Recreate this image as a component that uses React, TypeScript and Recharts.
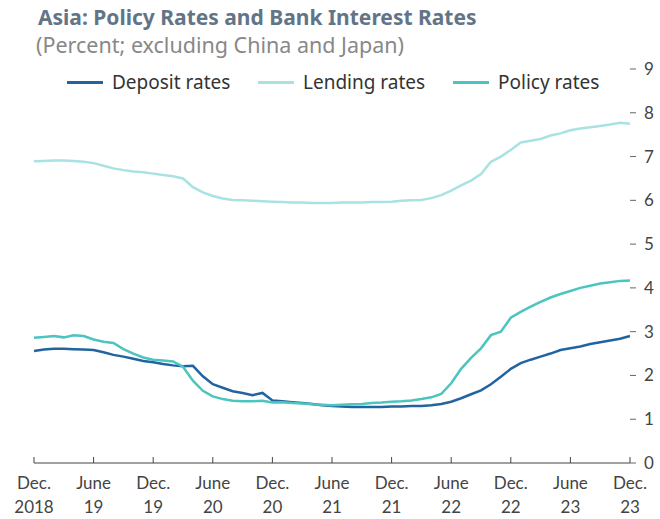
import { Legend, Line, LineChart, XAxis, YAxis } from "recharts";

// monthly, Dec. 2018 - Dec. 2023 (percent)
const depositRates = [
  2.56, 2.59, 2.61, 2.61, 2.6, 2.59, 2.58, 2.53, 2.47, 2.43,
  2.38, 2.33, 2.3, 2.26, 2.23, 2.21, 2.22, 1.98, 1.8, 1.72,
  1.64, 1.6, 1.55, 1.6, 1.43, 1.41, 1.39, 1.37, 1.35, 1.32,
  1.3, 1.29, 1.28, 1.28, 1.28, 1.28, 1.29, 1.29, 1.3, 1.3,
  1.32, 1.35, 1.4, 1.48, 1.57, 1.66, 1.8, 1.97, 2.15, 2.28,
  2.36, 2.43, 2.5, 2.58, 2.62, 2.66, 2.72, 2.76, 2.8, 2.84,
  2.9,
];
const lendingRates = [
  6.89, 6.9, 6.91, 6.91, 6.9, 6.88, 6.85, 6.79, 6.73, 6.69,
  6.66, 6.64, 6.61, 6.58, 6.55, 6.5, 6.3, 6.18, 6.1, 6.04,
  6.01, 6.0, 5.99, 5.98, 5.97, 5.96, 5.95, 5.95, 5.94, 5.94,
  5.94, 5.95, 5.95, 5.95, 5.96, 5.96, 5.97, 5.99, 6.0, 6.01,
  6.05, 6.12, 6.22, 6.34, 6.45, 6.6, 6.88, 7.0, 7.15, 7.32,
  7.36, 7.4, 7.48, 7.53, 7.6, 7.64, 7.67, 7.7, 7.73, 7.77,
  7.75,
];
const policyRates = [
  2.86, 2.88, 2.9, 2.87, 2.92, 2.9, 2.82, 2.77, 2.74, 2.6,
  2.5, 2.41, 2.36, 2.34, 2.32, 2.2, 1.88, 1.65, 1.52, 1.46,
  1.42, 1.41, 1.41, 1.42, 1.38, 1.39, 1.37, 1.36, 1.34, 1.33,
  1.32, 1.33, 1.34, 1.35, 1.37, 1.38, 1.4, 1.41, 1.43, 1.46,
  1.5, 1.58, 1.82, 2.15, 2.4, 2.62, 2.92, 3.0, 3.32, 3.45,
  3.57, 3.68, 3.78, 3.86, 3.93, 4.0, 4.05, 4.1, 4.13, 4.16,
  4.17,
];

const yTicks = [0, 1, 2, 3, 4, 5, 6, 7, 8, 9];
const tickMonths = [
  "2018-12", "2019-06", "2019-12", "2020-06", "2020-12", "2021-06",
  "2021-12", "2022-06", "2022-12", "2023-06", "2023-12",
];
const tickTop = ["Dec.", "June", "Dec.", "June", "Dec.", "June", "Dec.", "June", "Dec.", "June", "Dec."];
const tickBottom = ["2018", "19", "19", "20", "20", "21", "21", "22", "22", "23", "23"];

const months: string[] = [];
for (let i = 0; i < depositRates.length; i++) {
  const m = (11 + i) % 12;
  const y = 2018 + Math.floor((11 + i) / 12);
  months.push(`${y}-${String(m + 1).padStart(2, "0")}`);
}

const data = months.map((m, i) => ({
  month: m,
  deposit: depositRates[i],
  lending: lendingRates[i],
  policy: policyRates[i],
}));

const series = [
  { key: "deposit", name: "Deposit rates", color: "#2164a0", left: 67 },
  { key: "lending", name: "Lending rates", color: "#a9e2e2", left: 258 },
  { key: "policy", name: "Policy rates", color: "#4cc4c0", left: 453 },
];

const FONT = "Lato, 'Noto Sans', sans-serif";
const WIDE = "'Noto Sans', 'Open Sans', sans-serif";

function XTick(props: any) {
  const { x, y, payload } = props;
  const k = tickMonths.indexOf(payload.value);
  if (k < 0) return null;
  return (
    <text x={x} y={y} textAnchor="middle" fill="#444" fontSize={17} fontFamily={FONT}>
      <tspan x={x} dy={26}>{tickTop[k]}</tspan>
      <tspan x={x} dy={24}>{tickBottom[k]}</tspan>
    </text>
  );
}

function LegendRow() {
  return (
    <div style={{ position: "relative", height: 24, fontFamily: WIDE, fontSize: 19, color: "#333" }}>
      {series.map((s) => (
        <div key={s.key} style={{ position: "absolute", left: s.left, top: 0, display: "flex", alignItems: "center", height: 24, whiteSpace: "nowrap" }}>
          <div style={{ width: 36, height: 3, background: s.color, marginRight: 9 }} />
          <span>{s.name}</span>
        </div>
      ))}
    </div>
  );
}

export default function App() {
  return (
    <div style={{ position: "absolute", left: 0, top: 0, width: 660, height: 519, background: "#fff", fontFamily: FONT }}>
      <div style={{ position: "absolute", left: 38, top: 3, fontSize: 21, fontWeight: 700, color: "#627486", whiteSpace: "nowrap", fontFamily: WIDE }}>
        Asia: Policy Rates and Bank Interest Rates
      </div>
      <div style={{ position: "absolute", left: 36, top: 30, fontSize: 21.5, color: "#888", whiteSpace: "nowrap", fontFamily: WIDE }}>
        (Percent; excluding China and Japan)
      </div>
      <LineChart width={660} height={519} data={data} margin={{ top: 69, right: 0, bottom: 0, left: 34 }}>
        <XAxis
          dataKey="month"
          ticks={tickMonths}
          interval={0}
          tickSize={-6}
          tickMargin={6}
          height={56}
          axisLine={{ stroke: "#444" }}
          tickLine={{ stroke: "#444" }}
          tick={<XTick />}
        />
        <YAxis
          yAxisId="left"
          domain={[0, 9]}
          ticks={yTicks}
          width={0}
          axisLine={false}
          tickSize={-6}
          tickLine={{ stroke: "#666" }}
          tickFormatter={() => ""}
        />
        <YAxis
          yAxisId="right"
          orientation="right"
          domain={[0, 9]}
          ticks={yTicks}
          width={30}
          axisLine={false}
          tickSize={6}
          tickMargin={8}
          tickLine={{ stroke: "#666" }}
          tick={{ fill: "#444", fontSize: 17, fontFamily: FONT }}
        />
        <Legend
          layout="horizontal"
          verticalAlign="middle"
          align="center"
          wrapperStyle={{ top: 70, left: 0, width: 660 }}
          content={<LegendRow />}
        />
        {series.map((s) => (
          <Line
            key={s.key}
            yAxisId="right"
            type="linear"
            dataKey={s.key}
            name={s.name}
            stroke={s.color}
            strokeWidth={2.5}
            dot={false}
            isAnimationActive={false}
          />
        ))}
      </LineChart>
    </div>
  );
}
